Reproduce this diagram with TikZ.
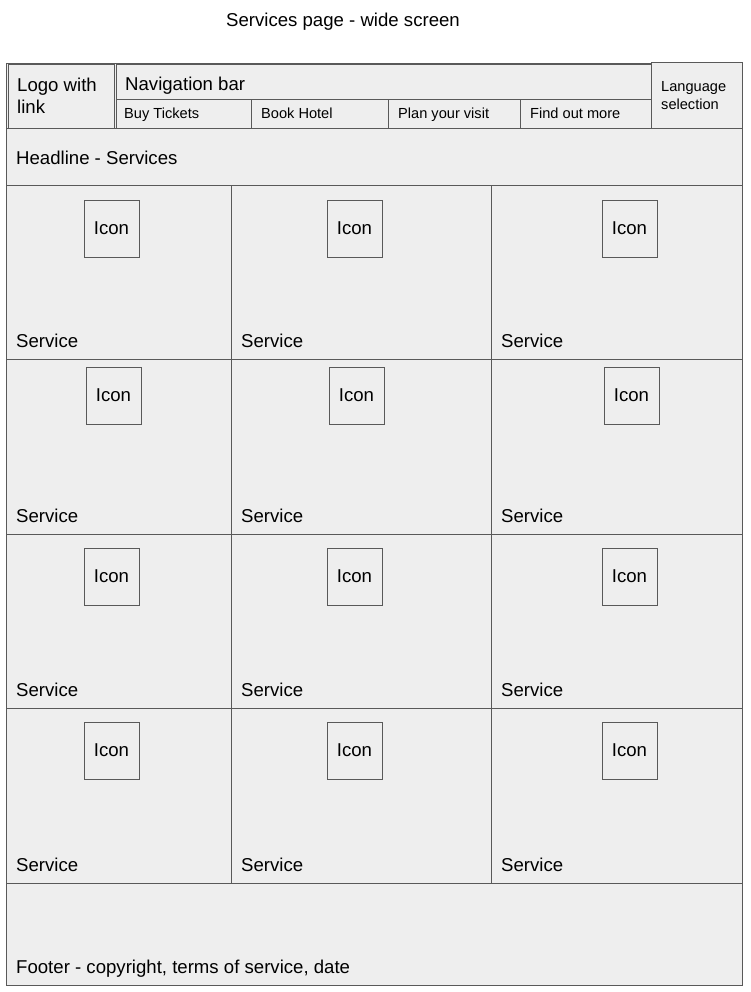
\documentclass[tikz,border=0pt]{standalone}
\usepackage{fontspec}
\setmainfont{Liberation Sans}
\usetikzlibrary{positioning}
\definecolor{boxgray}{HTML}{EEEEEE}
\definecolor{linegray}{HTML}{595959}
\newcommand{\bigtext}{\fontsize{18.6}{22}\selectfont}
\newcommand{\smalltext}{\fontsize{14.6}{18}\selectfont}

\begin{document}
\begin{tikzpicture}[x=1pt, y=-1pt,
  box/.style={rectangle, draw=linegray, fill=boxgray, line width=0.9pt, inner sep=0pt, outer sep=0pt, anchor=north west},
  iconbox/.style={box, minimum width=55pt, minimum height=57pt, font=\bigtext},
  lbl/.style={inner sep=0pt, anchor=base west, font=\bigtext},
  smalllbl/.style={inner sep=0pt, anchor=base west, font=\smalltext}]
\useasboundingbox (0,0) rectangle (750,992);
\node [font=\bigtext, inner sep=0pt, anchor=base] (title) at (343,27) {Services page - wide screen};
% header
\node [box, minimum width=736pt, minimum height=65pt] (header) at (6,63) {};
\node [box, minimum width=106pt, minimum height=64pt] (logo) at (8,64) {};
\node [box, minimum width=535pt, minimum height=35pt] (nav) at (116,64) {};
\node [box, minimum width=135pt, minimum height=29pt] (buy) at (116,99) {};
\node [box, minimum width=137pt, minimum height=29pt] (book) at (251,99) {};
\node [box, minimum width=132pt, minimum height=29pt] (plan) at (388,99) {};
\node [box, minimum width=131pt, minimum height=29pt] (find) at (520,99) {};
\node [box, minimum width=91pt, minimum height=66pt] (lang) at (651,62) {};
\node [inner sep=0pt, anchor=north west, align=left, font=\bigtext] (logotext) at (17,78) {Logo with\\link};
\node [lbl] (navtext) at (125,91) {Navigation bar};
\node [smalllbl] (buytext) at (124,119) {Buy Tickets};
\node [smalllbl] (booktext) at (261,119) {Book Hotel};
\node [smalllbl] (plantext) at (398,119) {Plan your visit};
\node [smalllbl] (findtext) at (530,119) {Find out more};
\node [inner sep=0pt, anchor=north west, align=left, font=\fontsize{14.6}{18}\selectfont] (langtext) at (661,81) {Language\\selection};
% headline
\node [box, minimum width=736pt, minimum height=57pt] (headline) at (6,128) {};
\node [lbl] (headtext) at (16,165) {Headline - Services};
% services grid
\foreach \r/\y/\h/\iy/\dx in {1/185/174/200/0, 2/359/175/367/2, 3/534/174/548/0, 4/708/175/722/0}{
  \foreach \c/\x/\w/\ix in {1/6/225/84, 2/231/260/327, 3/491/251/602}{
    \node [box, minimum width=\w pt, minimum height=\h pt] (c\r\c) at (\x,\y) {};
    \node [iconbox] (i\r\c) at (\ix+\dx,\iy) {Icon};
    \node [lbl] (s\r\c) at ([xshift=10pt, yshift=12pt]c\r\c.south west) {Service};
  }
}
% footer
\node [box, minimum width=736pt, minimum height=102pt] (footer) at (6,883) {};
\node [lbl] (foottext) at ([xshift=10pt, yshift=12pt]footer.south west) {Footer - copyright, terms of service, date};
\end{tikzpicture}
\end{document}
